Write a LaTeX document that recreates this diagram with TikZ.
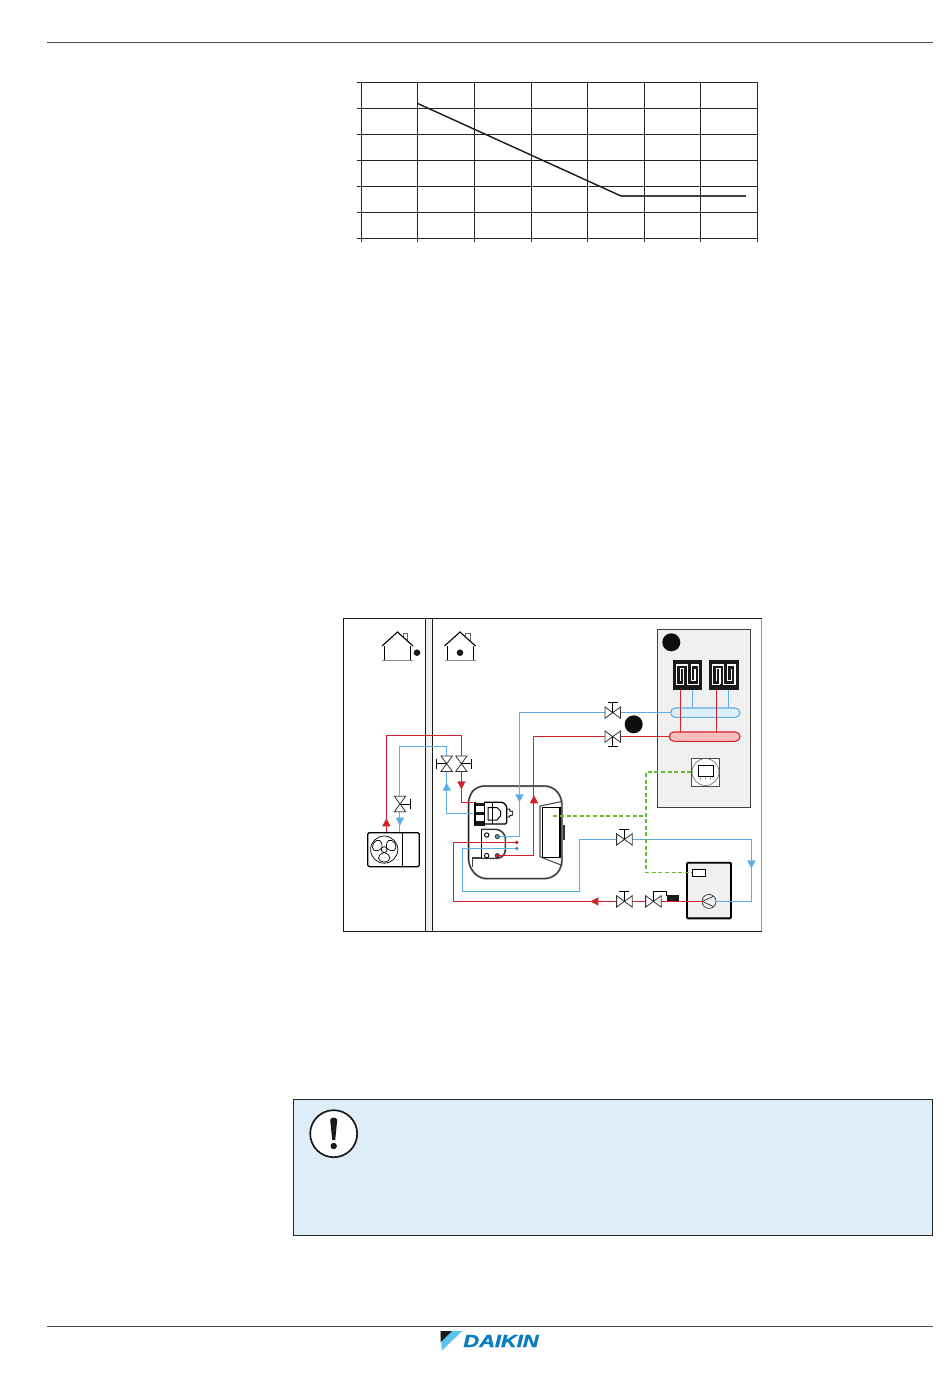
\documentclass[tikz,border=0pt]{standalone}
\usepackage{fontspec}
\usetikzlibrary{calc}
\newfontfamily\logofont[FakeBold=1.6]{Liberation Sans}
\definecolor{pipered}{HTML}{D2232A}
\definecolor{pipeblue}{HTML}{5BAEE6}
\definecolor{ctrlgreen}{HTML}{66BB33}
\definecolor{panelgrey}{HTML}{F0F0F0}
\definecolor{noteblue}{HTML}{DEEEF9}
\definecolor{logoblue}{HTML}{0A7DC0}
\definecolor{logosky}{HTML}{5CC5EF}
\tikzset{
  pipe/.style={line width=1.1pt},
  redpipe/.style={pipe,draw=pipered},
  bluepipe/.style={pipe,draw=pipeblue},
  ctrlline/.style={line width=1.5pt,draw=ctrlgreen,dash pattern=on 4pt off 2.6pt},
  gridline/.style={line width=0.9pt,draw=black!85},
  pics/vlv/.style={code={
    \draw[line width=0.8pt,draw=black!80,fill=white] (-7.8,-5.7) -- (7.8,5.7) -- (7.8,-5.7) -- (-7.8,5.7) -- cycle;
    \draw[line width=0.8pt] (0,0) -- (0,-10) (-5,-10) -- (5,-10);
  }},
  pics/tip/.style={code={
    \fill (-4.2,-4) -- (4.2,-4) -- (0,4) -- cycle;
  }},
  pics/house/.style={code={
    \draw[line width=0.7pt,draw=black!60] (403,645) -- (403,633) -- (407.7,633) -- (407.7,645);
    \draw[line width=1pt] (384.5,646) -- (384.5,660) (410.7,646) -- (410.7,660);
    \draw[line width=1.1pt,fill=white] (382,646) -- (397.5,632) -- (413,646);
    \draw[line width=1.2pt,draw=black!45] (382,660.7) -- (413,660.7);
  }},
  pics/floorloop/.style={code={
    \fill[black!90] (0,0) rectangle (29.6,29.6);
    \draw[line width=1.1pt,draw=white,line join=miter]
      (11,24.3) -- (3.8,24.3) -- (3.8,5) -- (14.7,5) -- (14.7,24.3) -- (26,24.3) -- (26,5) -- (18.5,5) -- (18.5,20.8) -- (22.3,20.8) -- (22.3,8.5)
      (7.4,20.8) -- (7.4,8.5) -- (11,8.5) -- (11,24.3);
  }},
}
\begin{document}
\begin{tikzpicture}[x=1pt,y=-1pt]
  \useasboundingbox[fill=white] (0,0) rectangle (950,1378);
  % page rules
  \draw[line width=0.8pt,draw=black!70] (47,42) -- (932.5,42);
  \draw[line width=0.8pt,draw=black!70] (47,1326.5) -- (932.5,1326.5);
  % chart grid
  \foreach \yy in {82.3,108.3,134.3,160.3,186.3,212.3,238.3}
    \draw[gridline] (356.7,\yy) -- (757.3,\yy);
  \foreach \xx in {361.7,417.3,474.3,531.7,587.3,644.3,700.3,757.3}
    \draw[gridline] (\xx,82.3) -- (\xx,241.7);
  \draw[line width=1.4pt,draw=black!90] (417.3,103.3) -- (621,196);
  \draw[line width=1.4pt,draw=black!75] (621,196) -- (745.7,196);
  % frame
  \fill[panelgrey] (425.5,618.5) rectangle (432.5,931.5);
  \draw[line width=0.7pt,draw=black!40] (761.5,618.5) -- (761.5,931.5);
  \draw[line width=1pt,draw=black!90] (761.5,618.5) -- (343.5,618.5) -- (343.5,931.5) -- (761.5,931.5);
  \draw[line width=1pt,draw=black!90] (425.5,618.5) -- (425.5,931.5) (432.5,618.5) -- (432.5,931.5);
  % houses
  \pic at (0,0) {house};
  \pic at (62.5,0) {house};
  \fill[black!90] (417,652.7) circle (3.3);
  \fill[black!90] (460,652.7) circle (3.3);
  % room
  \draw[line width=1.2pt,draw=black!75,fill=panelgrey] (657.7,629.3) rectangle (750.3,807.7);
  \fill[black!95] (671.3,642.3) circle (9);
  \fill[black!95] (633.7,724.3) circle (9);
  \pic at (672.7,660) {floorloop};
  \pic at (709,660) {floorloop};
  % named points on the pipe runs
  \coordinate (odred) at (386.4,832);
  \coordinate (odblue) at (399.5,832);
  \coordinate (vgasout) at (400,804);
  \coordinate (vblue) at (446.7,763.7);
  \coordinate (vred) at (461.4,763.7);
  \coordinate (hxred) at (473.3,802.4);
  \coordinate (hxblue) at (473.3,813.4);
  \coordinate (portblue) at (497.3,836.6);
  \coordinate (portred) at (497.3,855.6);
  \coordinate (dotred) at (516.7,842.4);
  \coordinate (dotblue) at (516.7,848.5);
  \coordinate (vcool) at (612.7,712.6);
  \coordinate (vheat) at (612.7,736.6);
  \coordinate (mancool) at (670.7,712.6);
  \coordinate (manheat) at (669.3,736.6);
  \coordinate (vdhwin) at (624.4,839.4);
  \coordinate (vdhwa) at (624.4,901.4);
  \coordinate (vdhwb) at (653.4,901.4);
  \coordinate (pumpc) at (709,901.4);
  \coordinate (pumpin) at (702,901.4);
  \coordinate (pumpout) at (716,901.4);
  % manifolds
  \draw[line width=1.1pt,draw=pipeblue,fill=noteblue,rounded corners=4.6] (670.7,708) rectangle (740,717.3);
  \draw[line width=1.1pt,draw=pipered,fill=pink,rounded corners=4.6] (669.3,732) rectangle (740,741.3);
  \draw[redpipe] (680.6,689.6) -- (680.6,732) (716.4,689.6) -- (716.4,732);
  \draw[bluepipe] (692.6,689.6) -- (692.6,708) (728.4,689.6) -- (728.4,708);
  % thermostat
  \draw[line width=0.8pt,draw=black!70,fill=white] (691.3,758.3) rectangle (719.7,786);
  \draw[line width=0.5pt,draw=black!70] (705.5,772) circle (13.5);
  \draw[line width=0.9pt] (698.3,765.3) rectangle (713.7,776.3);
  \foreach \xx in {700.5,705.5,710.5} \fill[black!70] (\xx,778.5) circle (0.7);
  % outdoor unit
  \draw[line width=1.3pt,rounded corners=1.5,fill=white] (367.7,832.7) rectangle (419.3,866.7);
  \draw[line width=0.9pt] (402.7,832.7) -- (402.7,866.7);
  \draw[line width=0.7pt] (384.2,849.6) circle (13.6);
  \draw[line width=0.7pt] (384.2,849.6) circle (2.9);
  \foreach \aa in {30,150,270}
    \draw[line width=0.7pt,rotate around={\aa:(384.2,849.6)}] (387,849.6) .. controls (390,841.5) and (396,842.5) .. (396.6,849.6) .. controls (396,856.7) and (390,857.7) .. (387,849.6);
  % indoor unit
  \draw[line width=2pt,draw=black!50,fill=white,rounded corners=7] (468.5,866) -- (468.5,796) -- (477,786) -- (552,786) -- (561.9,797) -- (561.9,868) -- (552,878.6) -- (479,878.6) -- cycle;
  \draw[line width=0.6pt,draw=black!90,rounded corners=7] (468.5,866) -- (468.5,796) -- (477,786) -- (552,786) -- (561.9,797) -- (561.9,868) -- (552,878.6) -- (479,878.6) -- cycle;
  \draw[line width=1.1pt,draw=black!70] (561,801.7) -- (540,806) -- (540,856.7) -- (561,865);
  \draw[line width=1.1pt] (542.3,807.3) rectangle (560,857.7);
  \fill[black!80] (562.5,825) rectangle (565,840);
  % heat exchanger block
  \draw[line width=1.3pt,rounded corners=1.5,fill=white] (484,802.2) -- (503,802.2) -- (506.8,806) -- (506.8,824) -- (484,824);
  \draw[line width=0.9pt] (506.8,809) -- (509.5,809) -- (510,811) -- (512.7,811.5) -- (512.7,815) -- (510,815.5) -- (509.5,817) -- (506.8,817);
  \draw[line width=1pt] (488,807.5) -- (497,807.5) -- (500.5,811) -- (500.5,816) -- (497,820) -- (488,820) -- cycle;
  \draw[line width=1pt] (492,802.5) -- (492,823.5);
  \fill[black!90] (473.5,803) rectangle (485,806.4);
  \fill[black!90] (473.5,811.8) rectangle (485,815);
  \fill[black!90] (473.5,821) rectangle (485,825.5);
  \draw[line width=2pt] (474.5,802) -- (474.5,825);
  \draw[line width=1.6pt] (484.3,802) -- (484.3,825.5);
  % lower plate
  \draw[line width=1.6pt,draw=black!75,fill=white,rounded corners=3] (481.7,829.3) -- (499,829.3) -- (505.3,835) -- (505.3,853.5) -- (500,858.3) -- (481.7,858.3);
  \draw[line width=1.4pt,draw=black!75] (481.7,857.8) -- (472.5,857.8) -- (472.5,866.5);
  \draw[line width=0.9pt] (481.7,829.3) -- (481.7,858.3);
  \draw[line width=0.9pt] (486.7,835) circle (2.2) (486.7,855.6) circle (2.2);
  % DHW tank
  \draw[line width=1.9pt,fill=panelgrey,rounded corners=1] (687,862.7) rectangle (731,918.3);
  \draw[line width=0.8pt,fill=white] (692.3,869.3) rectangle (705.7,876.7);
  \draw[line width=0.7pt,draw=black!80,fill=panelgrey] (pumpc) circle (7);
  \draw[line width=0.7pt,draw=black!80] (702.4,901.4) -- (713.5,896.2) (702.4,901.4) -- (713.5,906.6);
  % refrigerant and water runs
  \draw[redpipe] (odred) |- (461.4,735.6) -- (vred) |- (hxred);
  \draw[bluepipe] (odblue) |- (446.7,746.4) -- (vblue) |- (hxblue);
  \draw[bluepipe,line width=1.3pt] (portblue) -| (519.4,712.6) -- (mancool);
  \draw[redpipe] (portred) -| (533.4,736.6) -- (manheat);
  \draw[redpipe] (dotred) -| (453.4,901.4) -- (pumpin);
  \draw[bluepipe] (dotblue) -| (462.4,891.4) -| (579.4,839.4) -- (751.6,839.4) |- (pumpout);
  % control wiring
  \draw[ctrlline] (553.3,816) -- (646,816);
  \draw[ctrlline] (691.3,772) -- (646,772) -- (646,872.7) -- (692.3,872.7);
  % port dots
  \draw[line width=0.9pt,draw=black!80,fill=pipeblue] (portblue) circle (2);
  \draw[line width=0.9pt,draw=black!80,fill=pipered] (portred) circle (2);
  \fill[pipered!85!black] (dotred) circle (1.9);
  \fill[pipeblue!75!black] (dotblue) circle (1.9);
  % valves
  \pic[rotate=-90] at (vgasout) {vlv};
  \pic[rotate=90] at (vblue) {vlv};
  \pic[rotate=-90] at (vred) {vlv};
  \pic at (vcool) {vlv};
  \pic[rotate=180] at (vheat) {vlv};
  \pic at (vdhwin) {vlv};
  \pic at (vdhwa) {vlv};
  \draw[line width=0.8pt,draw=black!80,fill=white] (645.6,895.7) -- (661.2,907.1) -- (661.2,895.7) -- (645.6,907.1) -- cycle;
  \draw[line width=0.8pt] (vdhwb) -- (653.4,891.5) -- (666.7,891.5) -- (666.7,896);
  \fill[black!90] (666.7,895.4) rectangle (679,901.4);
  % flow arrows
  \pic[color=pipered,rotate=180] at (386.4,822.3) {tip};
  \pic[color=pipeblue] at (400,821.7) {tip};
  \pic[color=pipeblue,rotate=180] at (446.7,786.7) {tip};
  \pic[color=pipered] at (461.4,785.3) {tip};
  \pic[color=pipeblue] at (519.4,798.3) {tip};
  \pic[color=pipered,rotate=180] at (534,799.3) {tip};
  \pic[color=pipeblue] at (751.4,864.3) {tip};
  \pic[color=pipered,rotate=-90] at (594.3,901.4) {tip};
  % note box
  \draw[line width=1pt,draw=black!85,fill=noteblue] (293.3,1099.3) rectangle (932.5,1235.3);
  \draw[line width=1.7pt,draw=black!90,fill=white] (333.7,1133.7) circle (23.5);
  \fill[black!90] (330.2,1120) .. controls (330.2,1116.8) and (337.2,1116.8) .. (337.2,1120) -- (335.2,1140) -- (332.2,1140) -- cycle;
  \fill[black!90] (333.7,1146) circle (3.2);
  % logo
  \fill[logosky] (440.7,1331) -- (462.3,1331) -- (441.7,1350.7) -- cycle;
  \fill[black!90] (440.7,1331) -- (452,1331) -- (440.7,1342) -- cycle;
  \node[inner sep=0pt,anchor=center,xscale=1.34,yscale=1.08,text=logoblue] (logoname) at (501,1341) {\logofont\fontsize{16.3}{16.3}\selectfont\bfseries\itshape DAIKIN};
\end{tikzpicture}
\end{document}
